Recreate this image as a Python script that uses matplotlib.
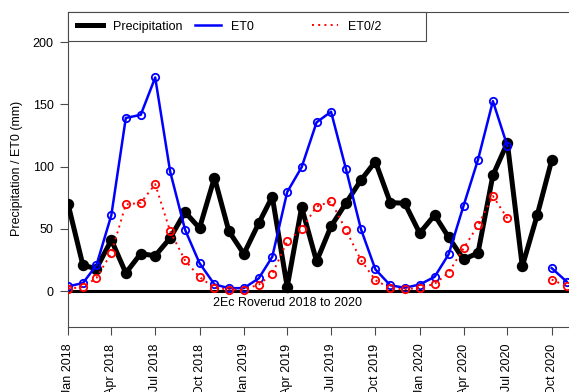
import matplotlib
matplotlib.use("Agg")
import matplotlib.pyplot as plt
import matplotlib.dates as mdates
from matplotlib.lines import Line2D
import numpy as np
import pandas as pd

plt.rcParams["font.family"] = ["Liberation Sans", "DejaVu Sans"]
plt.rcParams["font.size"] = 9

nan = np.nan

# monthly totals, Jan 2018 - Nov 2020 (mm)
months = pd.date_range("2018-01-01", "2020-11-01", freq="MS")

precip = [70, 20.6, 18, 41, 14.5, 30, 28.3, 42.5, 63.4, 50.5, 91, 48,
          29.8, 54.5, 75.8, 3.3, 67.3, 23.8, 52, 70.6, 89, 104, 71, 70.5,
          46.5, 61, 43.3, 25.4, 30.5, 93, 119, 19.8, 61, 105, nan]

et0 = [3.7, 6.4, 20.7, 61, 139, 141.5, 171.5, 96, 49.2, 22.4, 5.3, 2.3,
       2.3, 10.2, 27.5, 79.5, 99.5, 135.5, 144, 98, 49.8, 17.4, 4.6, 2.6,
       5.2, 11.4, 29.4, 68.4, 105.4, 152.5, 116.5, nan, nan, 18.4, 7.6]

et0_half = [1.9, 3.2, 10.4, 30.5, 69.5, 70.8, 85.8, 48, 24.6, 11.2, 2.6, 1.2,
            1.2, 5.1, 13.8, 39.8, 49.8, 67.8, 72, 49, 24.9, 8.7, 2.3, 1.3,
            2.6, 5.7, 14.7, 34.2, 52.7, 76.3, 58.3, nan, nan, 9.2, 3.8]

station_label = "2Ec Roverud 2018 to 2020"

box_col = "#4a4a4a"

fig = plt.figure(figsize=(5.69, 3.92), dpi=100)
# axis runs on past the right edge of the canvas
ax = fig.add_axes([68 / 569, 1 - 327 / 392, 528 / 569, 315 / 392])

ax.axhline(0, color="black", lw=2.2, zorder=1)

ax.plot(months, precip, color="black", lw=3.6, marker="o", ms=7.2,
        zorder=3)
ax.plot(months, et0, color="#0000ff", lw=1.8, marker="o", ms=5.3,
        mfc="none", mew=1.3, zorder=4)
ax.plot(months, et0_half, color="#ff0000", lw=1.4, ls=(0, (1, 2.2)),
        marker="o", ms=5.3, mfc="none", mew=1.3, zorder=5)

ax.text(pd.Timestamp("2019-04-01"), -10, station_label, ha="center",
        va="center", fontsize=9)

ax.set_xlim(pd.Timestamp("2018-01-01"), pd.Timestamp("2021-01-01"))
ax.set_ylim(-28.9, 224.1)
ax.set_yticks([0, 50, 100, 150, 200])

ax.xaxis.set_major_locator(mdates.MonthLocator(bymonth=[1, 4, 7, 10]))
ax.xaxis.set_major_formatter(mdates.DateFormatter("%b %Y"))
ax.tick_params(axis="x", labelrotation=90, length=5.5, width=0.8,
               color=box_col, pad=6.5)
ax.tick_params(axis="y", length=5.8, width=0.8, color=box_col, pad=4.5)

for sp in ax.spines.values():
    sp.set_color(box_col)
    sp.set_linewidth(0.8)

fig.text(17 / 569, 1 - 168 / 392, "Precipitation / ET0 (mm)", rotation=90,
         ha="center", va="center", fontsize=9)

# equal-width legend columns
handles = [
    Line2D([], [], color="black", lw=3.6),
    Line2D([], [], color="#0000ff", lw=1.8),
    Line2D([], [], color="#ff0000", lw=1.4, ls=(0, (1, 2.2))),
]
labels = ["Precipitation", "ET0" + " " * 13, "ET0/2" + " " * 10]
leg = ax.legend(handles, labels, loc="upper left", bbox_to_anchor=(0, 1),
                ncol=3, frameon=True, fancybox=False, borderaxespad=0,
                borderpad=0.7, handlelength=2.1, handletextpad=0.8,
                columnspacing=1.0, fontsize=9, framealpha=1)
leg.get_frame().set_edgecolor(box_col)
leg.get_frame().set_linewidth(0.8)

fig.savefig("out.png", dpi=100)
